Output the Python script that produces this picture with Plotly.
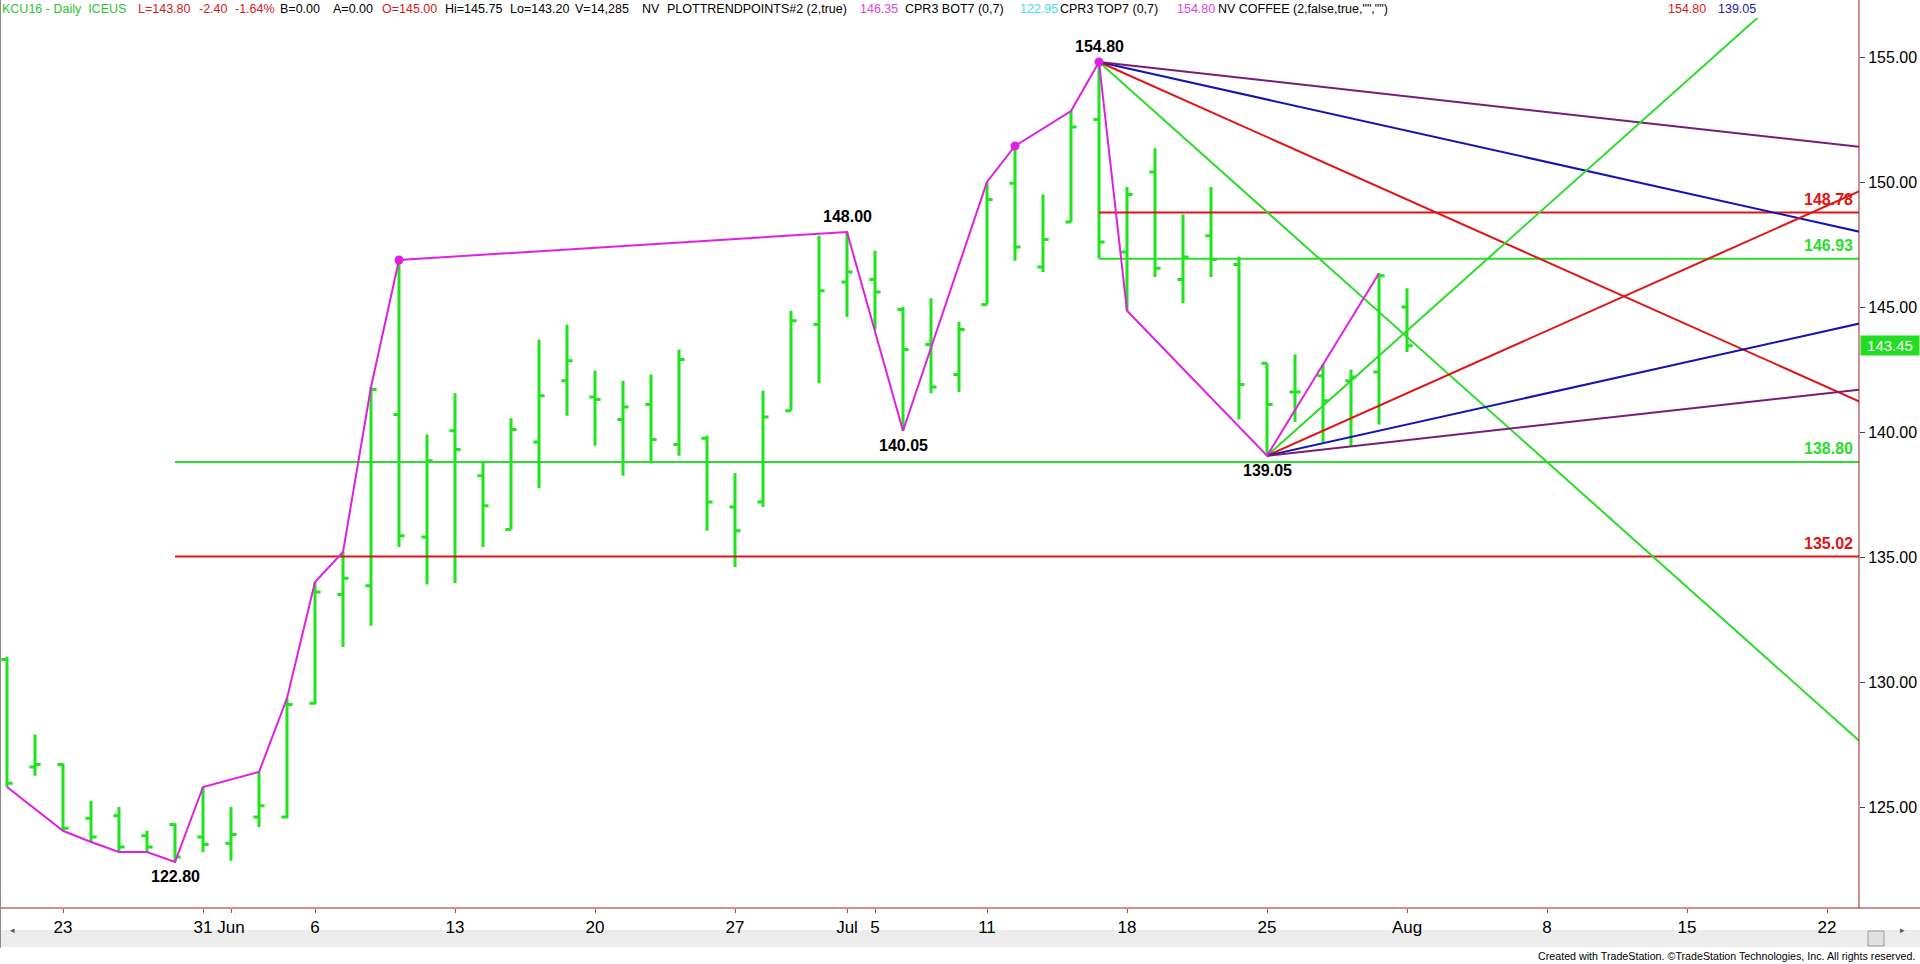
import pandas as pd
import plotly.graph_objects as go

# ---------------- data ----------------
HOLIDAYS = ["2016-05-30", "2016-07-04"]
SESSIONS = [d.strftime("%Y-%m-%d") for d in pd.bdate_range("2016-05-19", "2016-08-26")
            if d.strftime("%Y-%m-%d") not in HOLIDAYS]

bar_dates = ["2016-05-19", "2016-05-20", "2016-05-23", "2016-05-24", "2016-05-25", "2016-05-26",
             "2016-05-27", "2016-05-31", "2016-06-01", "2016-06-02", "2016-06-03", "2016-06-06",
             "2016-06-07", "2016-06-08", "2016-06-09", "2016-06-10", "2016-06-13", "2016-06-14",
             "2016-06-15", "2016-06-16", "2016-06-17", "2016-06-20", "2016-06-21", "2016-06-22",
             "2016-06-23", "2016-06-24", "2016-06-27", "2016-06-28", "2016-06-29", "2016-06-30",
             "2016-07-01", "2016-07-05", "2016-07-06", "2016-07-07", "2016-07-08", "2016-07-11",
             "2016-07-12", "2016-07-13", "2016-07-14", "2016-07-15", "2016-07-18", "2016-07-19",
             "2016-07-20", "2016-07-21", "2016-07-22", "2016-07-25", "2016-07-26", "2016-07-27",
             "2016-07-28", "2016-07-29", "2016-08-01"]
opens = [130.90, 126.60, 126.70, 124.55, 124.65, 123.85, 124.30, 123.80, 123.55, 124.60, 124.60,
         129.15, 133.50, 133.85, 140.70, 135.80, 140.05, 138.25, 136.10, 139.60, 142.05, 141.40,
         140.50, 141.10, 139.50, 139.75, 137.00, 137.20, 140.85, 144.30, 146.00, 146.10, 144.90,
         143.50, 142.30, 145.10, 149.95, 146.60, 148.40, 152.50, 147.20, 150.40, 146.10, 147.85,
         146.70, 142.75, 141.60, 142.25, 142.05, 142.40, 145.00]
highs = [131.00, 127.90, 126.75, 125.25, 125.00, 124.05, 124.35, 125.80, 125.00, 126.40, 129.35,
         134.00, 135.20, 141.80, 146.88, 139.90, 141.55, 138.85, 140.55, 143.70, 144.30, 142.45,
         142.05, 142.30, 143.30, 139.85, 138.35, 141.65, 144.85, 147.85, 148.00, 147.25, 145.00,
         145.35, 144.40, 150.00, 151.44, 149.50, 152.84, 154.80, 149.80, 151.35, 148.70, 149.80,
         147.00, 142.75, 143.10, 142.70, 142.50, 146.35, 145.75]
lows = [125.80, 126.25, 124.05, 123.60, 123.20, 123.20, 122.80, 123.20, 122.85, 124.20, 124.55,
        129.10, 131.40, 132.25, 135.40, 133.90, 133.95, 135.40, 136.10, 137.75, 140.65, 139.45,
        138.25, 138.75, 139.05, 136.05, 134.60, 137.00, 140.85, 141.95, 144.60, 144.10, 140.05,
        141.55, 141.60, 145.10, 146.85, 146.40, 148.40, 146.95, 144.85, 146.20, 145.15, 146.20,
        140.50, 139.05, 140.40, 139.60, 139.45, 140.30, 143.20]
closes = [125.95, 126.70, 124.15, 123.80, 123.40, 123.40, 123.00, 123.50, 123.90, 125.05, 129.10,
          133.60, 134.15, 141.70, 135.85, 138.85, 139.30, 137.05, 140.10, 141.45, 142.85, 141.30,
          141.00, 139.70, 142.90, 137.20, 136.05, 140.60, 144.45, 145.65, 146.40, 145.60, 143.30,
          141.80, 144.10, 149.30, 147.40, 147.70, 152.20, 147.60, 149.50, 146.55, 147.00, 146.90,
          141.90, 141.10, 141.60, 141.25, 142.20, 146.25, 143.45]

# trend-point line (PLOTTRENDPOINTS)
trend_dates = ["2016-05-19", "2016-05-23", "2016-05-24", "2016-05-25", "2016-05-26", "2016-05-27",
               "2016-05-31", "2016-06-02", "2016-06-03", "2016-06-06", "2016-06-07", "2016-06-08",
               "2016-06-09", "2016-07-01", "2016-07-06", "2016-07-11", "2016-07-12", "2016-07-14",
               "2016-07-15", "2016-07-18", "2016-07-25", "2016-07-29"]
trend_values = [125.80, 124.05, 123.60, 123.20, 123.20, 122.80, 125.80, 126.40, 129.35, 134.00,
                135.20, 141.80, 146.88, 148.00, 140.05, 150.00, 151.44, 152.84, 154.80, 144.85,
                139.05, 146.35]
dot_dates = ["2016-06-09", "2016-07-12", "2016-07-15"]
dot_values = [146.88, 151.44, 154.80]

# swing labels
swing_dates = ["2016-07-15", "2016-07-01", "2016-07-06", "2016-07-25", "2016-05-27"]
swing_values = [154.80, 148.00, 140.05, 139.05, 122.80]
swing_above = [True, True, False, False, False]

# horizontal levels
level_start = ["2016-05-27", "2016-05-27", "2016-07-15", "2016-07-15"]
level_values = [138.80, 135.02, 148.78, 146.93]
level_kind = ["green", "red", "red", "green"]

# Gann fans (points per bar)
fan_down_anchor = ("2016-07-15", 154.80)
fan_up_anchor = ("2016-07-25", 139.05)
fan_rates = [1.0, 0.5, 0.25, 0.125]
fan_kind = ["green", "red", "blue", "purple"]

tick_dates = ["2016-05-23", "2016-05-31", "2016-06-01", "2016-06-06", "2016-06-13", "2016-06-20",
              "2016-06-27", "2016-07-01", "2016-07-05", "2016-07-11", "2016-07-18", "2016-07-25",
              "2016-08-01", "2016-08-08", "2016-08-15", "2016-08-22"]
tick_text = ["23", "31", "Jun", "6", "13", "20", "27", "Jul", "5", "11", "18", "25", "Aug", "8", "15", "22"]
price_ticks = [125, 130, 135, 140, 145, 150, 155]
last_price = 143.45

# ---------------- style ----------------
COL = {"green": "#2BDD2B", "red": "#E01414", "blue": "#1414B4", "purple": "#781C78"}
BAR_GREEN = "#1FE41F"
MAGENTA = "#E020E0"
AXIS_RED = "#9B2323"
SANS = "Liberation Sans, Arial, sans-serif"

W, H = 1920, 964
ML, MR, MT, MB = 0, 61, 18, 56
PW, PH = W - ML - MR, H - MT - MB


def xi(d):
    return SESSIONS.index(d)


X0 = xi("2016-05-19") - 0.25
X1 = xi("2016-08-22") + 1.143
Y0, Y1 = 120.96, 156.56

fig = go.Figure()

# levels
for d, v, k in zip(level_start, level_values, level_kind):
    fig.add_trace(go.Scatter(x=[xi(d), X1 + 1], y=[v, v], mode="lines",
                             line=dict(color=COL[k], width=2), hoverinfo="skip"))

# fans
for (ad, av), sign in [(fan_down_anchor, -1), (fan_up_anchor, 1)]:
    x_a = xi(ad)
    for r, k in zip(fan_rates, fan_kind):
        x_e = X1 + 1
        fig.add_trace(go.Scatter(x=[x_a, x_e], y=[av, av + sign * r * (x_e - x_a)], mode="lines",
                                 line=dict(color=COL[k], width=2), hoverinfo="skip"))

# bars
fig.add_trace(go.Ohlc(x=[xi(d) for d in bar_dates], open=opens, high=highs, low=lows, close=closes,
                      increasing=dict(line=dict(color=BAR_GREEN, width=3)),
                      decreasing=dict(line=dict(color=BAR_GREEN, width=3)),
                      tickwidth=0.2, hoverinfo="skip"))

# trend line
fig.add_trace(go.Scatter(x=[xi(d) for d in trend_dates], y=trend_values, mode="lines",
                         line=dict(color=MAGENTA, width=2), hoverinfo="skip"))
fig.add_trace(go.Scatter(x=[xi(d) for d in dot_dates], y=dot_values, mode="markers",
                         marker=dict(color=MAGENTA, size=9), hoverinfo="skip"))

ann = []
for d, v, up in zip(swing_dates, swing_values, swing_above):
    ann.append(dict(x=xi(d), y=v, xref="x", yref="y", text=f"<b>{v:.2f}</b>", showarrow=False,
                    yanchor="bottom" if up else "top", yshift=5 if up else -4,
                    font=dict(family=SANS, size=16, color="black")))

for v, k in zip(level_values, level_kind):
    ann.append(dict(x=(1855 - ML) / PW, y=v, xref="paper", yref="y", text=f"<b>{v:.2f}</b>",
                    showarrow=False, xanchor="right", yanchor="bottom", yshift=3,
                    font=dict(family=SANS, size=16, color=COL[k])))

# last price box
ann.append(dict(x=1.0, y=last_price, xref="paper", yref="y", text=f"{last_price:.2f}",
                showarrow=False, xanchor="left", yanchor="middle", xshift=1, width=56, height=17,
                bgcolor="#22DD22", font=dict(family=SANS, size=15, color="white")))

# header
header = [(2, "KCU16 - Daily  ICEUS", "#2FC42F"), (138, "L=143.80", "#D41A1A"), (199, "-2.40", "#D41A1A"),
          (235, "-1.64%", "#D41A1A"), (280, "B=0.00", "black"), (333, "A=0.00", "black"),
          (382, "O=145.00", "#D41A1A"), (445, "Hi=145.75", "black"), (510, "Lo=143.20", "black"),
          (575, "V=14,285", "black"), (642, "NV", "black"), (667, "PLOTTRENDPOINTS#2 (2,true)", "black"),
          (860, "146.35", "#DD44DD"), (905, "CPR3 BOT7 (0,7)", "black"), (1020, "122.95", "#44DDDD"),
          (1060, "CPR3 TOP7 (0,7)", "black"), (1177, "154.80", "#DD44DD"),
          (1218, 'NV COFFEE (2,false,true,"","")', "black"), (1668, "154.80", "#D41A1A"),
          (1718, "139.05", "#1A1AB4")]
for px, t, c in header:
    ann.append(dict(x=px / PW, y=1 + (MT - 9) / PH, xref="paper", yref="paper", text=t,
                    showarrow=False, xanchor="left", yanchor="middle", xshift=-2,
                    font=dict(family=SANS, size=12.5, color=c)))

ann.append(dict(x=(1917) / PW, y=-(956 - (H - MB)) / PH, xref="paper", yref="paper",
                text="Created with TradeStation. ©TradeStation Technologies, Inc. All rights reserved.",
                showarrow=False, xanchor="right", yanchor="middle",
                font=dict(family=SANS, size=10.7, color="black")))
ann.append(dict(x=8 / PW, y=-(938 - (H - MB)) / PH, xref="paper", yref="paper", text="◂",
                showarrow=False, font=dict(size=9, color="#555")))
ann.append(dict(x=1907 / PW, y=-(938 - (H - MB)) / PH, xref="paper", yref="paper", text="▸",
                showarrow=False, font=dict(size=9, color="#555")))


def py(p):
    return (H - MB - p) / PH


shapes = [
    dict(type="rect", xref="paper", yref="paper", x0=0, x1=W / PW, y0=py(947), y1=py(930),
         fillcolor="#ECECEC", line=dict(width=0), layer="below"),
    dict(type="rect", xref="paper", yref="paper", x0=1868 / PW, x1=1884 / PW, y0=py(946), y1=py(931),
         fillcolor="#E0E0E0", line=dict(color="#9A9A9A", width=1)),
    dict(type="line", xref="paper", yref="paper", x0=0, x1=W / PW, y0=0, y1=0,
         line=dict(color=AXIS_RED, width=1)),
    dict(type="line", xref="paper", yref="paper", x0=1, x1=1, y0=0, y1=py(0),
         line=dict(color=AXIS_RED, width=1)),
    dict(type="line", xref="paper", yref="paper", x0=0.5 / PW, x1=0.5 / PW, y0=py(948), y1=py(0),
         line=dict(color="#8A8A8A", width=1)),
]

fig.update_layout(
    width=W, height=H, margin=dict(l=ML, r=MR, t=MT, b=MB, pad=0),
    paper_bgcolor="white", plot_bgcolor="white", showlegend=False,
    annotations=ann, shapes=shapes,
    xaxis=dict(range=[X0, X1], rangeslider=dict(visible=False), showgrid=False, zeroline=False,
               tickmode="array", tickvals=[xi(d) for d in tick_dates], ticktext=tick_text,
               ticks="outside", ticklen=4, tickcolor="#E03030", tickwidth=1, tickangle=0,
               tickfont=dict(family=SANS, size=17, color="black"), showline=False),
    yaxis=dict(range=[Y0, Y1], side="right", showgrid=False, zeroline=False,
               tickmode="array", tickvals=price_ticks, ticktext=[f"{v:.2f}" for v in price_ticks],
               ticks="outside", ticklen=5, tickcolor="#444", tickwidth=1,
               tickfont=dict(family=SANS, size=16, color="black"), showline=False),
)

fig.write_html("out.html", config={"displayModeBar": False},
               post_script="document.body.style.margin='0';")
